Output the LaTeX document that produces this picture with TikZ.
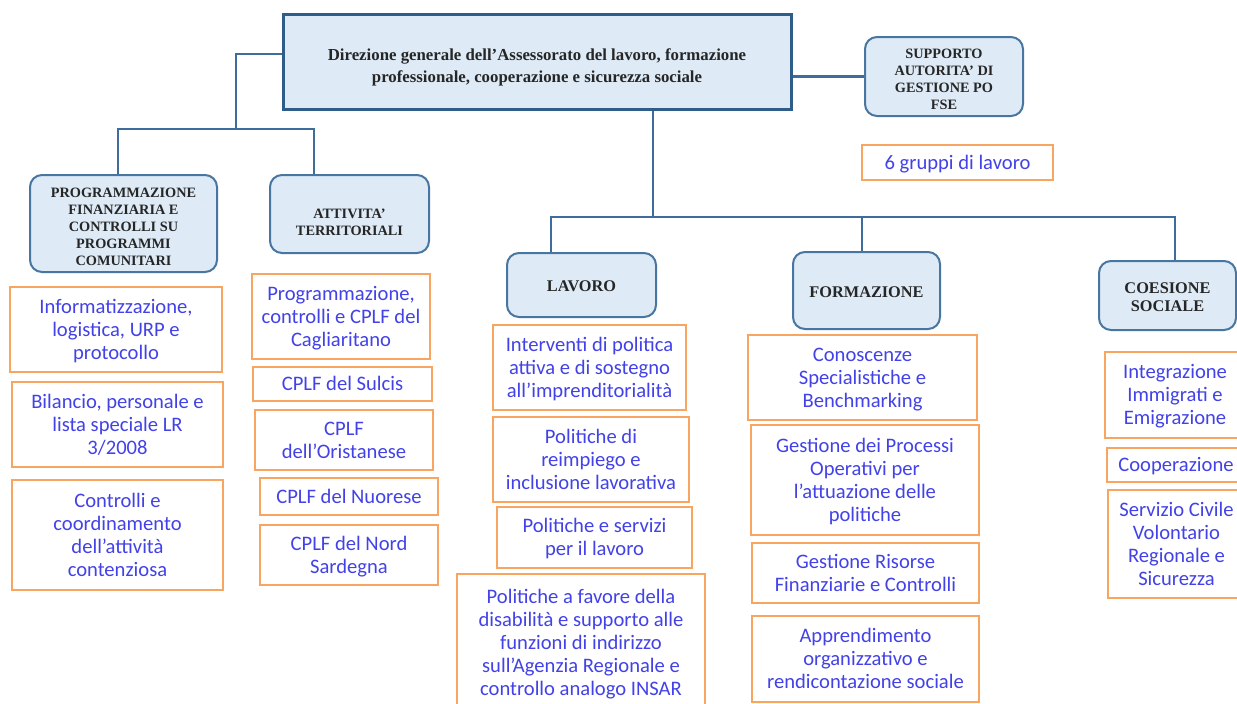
\documentclass[tikz,border=0pt]{standalone}
\usepackage{fontspec}
\setmainfont{Liberation Serif}
\newfontfamily\carl{Carlito}
\definecolor{boxfill}{RGB}{222,235,247}
\definecolor{headline}{RGB}{72,118,160}
\definecolor{mainline}{RGB}{47,93,138}
\definecolor{connc}{RGB}{62,108,155}
\definecolor{orangeline}{RGB}{248,165,98}
\definecolor{bluetext}{RGB}{66,66,232}
\definecolor{headtext}{RGB}{38,38,38}
% struts: first-line height, last-line depth
\newcommand\OB[1]{\rule{0pt}{19pt}#1\rule[-6pt]{0pt}{6pt}}
\newcommand\HS[3]{\rule{0pt}{#1pt}#3\rule[-#2pt]{0pt}{#2pt}}
\tikzset{
  head/.style={draw=headline, fill=boxfill, line width=2pt, rounded corners=12pt,
    align=center, text=headtext, inner sep=2pt,
    font=\bfseries\fontsize{14.3}{17}\selectfont},
  headbig/.style={head, font=\bfseries\fontsize{16.3}{18.5}\selectfont},
  mainbox/.style={draw=mainline, fill=boxfill, line width=3pt, align=center,
    text=headtext, inner sep=2pt, font=\bfseries\fontsize{16.8}{22}\selectfont},
  obox/.style={draw=orangeline, fill=white, line width=1.8pt, align=center,
    text=bluetext, inner sep=2pt, font=\carl\fontsize{20.6}{23}\selectfont},
  conn/.style={draw=connc, line width=2.5pt}
}
\begin{document}
\begin{tikzpicture}[x=1pt,y=-1pt]
\clip (0,0) rectangle (1237,704);
\fill[white] (0,0) rectangle (1237,704);

% top
\node[mainbox, minimum width=508, minimum height=95] (main) at (537,61.5)
  {\HS{24}{5}{Direzione generale dell'Assessorato del lavoro, formazione\\professionale, cooperazione e sicurezza sociale}};
\node[head, minimum width=158, minimum height=79] (supp) at (944,76.5)
  {\HS{19}{4}{SUPPORTO\\AUTORITA' DI\\GESTIONE PO\\FSE}};
\node[obox, minimum width=191, minimum height=35] (grp) at (957.5,162.5) {\OB{6 gruppi di lavoro}};

% headings
\node[head, minimum width=187, minimum height=97] (prog) at (123.5,223.5)
  {\HS{19}{4}{PROGRAMMAZIONE\\FINANZIARIA E\\CONTROLLI SU\\PROGRAMMI\\COMUNITARI}};
\node[head, minimum width=159, minimum height=78] (att) at (349.5,214)
  {\HS{30}{4}{ATTIVITA'\\TERRITORIALI}};
\node[headbig, minimum width=149, minimum height=64] (lav) at (581.5,285) {\HS{16}{4}{LAVORO}};
\node[headbig, minimum width=147, minimum height=77] (form) at (866.5,290.5) {\HS{18}{4}{FORMAZIONE}};
\node[headbig, minimum width=137, minimum height=69] (coes) at (1167.5,295.5) {\HS{18}{4}{COESIONE\\SOCIALE}};

% column 1
\node[obox, minimum width=212, minimum height=85] (c1a) at (116,329.5)
  {\OB{Informatizzazione,\\logistica, URP e\\protocollo}};
\node[obox, minimum width=211, minimum height=85] (c1b) at (117.5,424.5)
  {\OB{Bilancio, personale e\\lista speciale LR\\3/2008}};
\node[obox, minimum width=211, minimum height=110] (c1c) at (117.5,535)
  {\OB{Controlli e\\coordinamento\\dell’attività\\contenziosa}};

% column 2
\node[obox, minimum width=178, minimum height=85] (c2a) at (341,316.5)
  {\OB{Programmazione,\\controlli e CPLF del\\Cagliaritano}};
\node[obox, minimum width=179, minimum height=34] (c2b) at (342.5,384) {\OB{CPLF del Sulcis}};
\node[obox, minimum width=178, minimum height=60] (c2c) at (344,440) {\OB{CPLF\\dell’Oristanese}};
\node[obox, minimum width=178, minimum height=37] (c2d) at (349,496.5) {\OB{CPLF del Nuorese}};
\node[obox, minimum width=178, minimum height=60] (c2e) at (349,555) {\OB{CPLF del Nord\\Sardegna}};

% column 3
\node[obox, minimum width=193, minimum height=85] (c3a) at (589.5,367.5)
  {\OB{Interventi di politica\\attiva e di sostegno\\all’imprenditorialità}};
\node[obox, minimum width=196, minimum height=85] (c3b) at (591,459.5)
  {\OB{Politiche di\\reimpiego e\\inclusione lavorativa}};
\node[obox, minimum width=195, minimum height=61] (c3c) at (594.5,537.5)
  {\OB{Politiche e servizi\\per il lavoro}};
\node[obox, minimum width=248, minimum height=138] (c3d) at (581,643)
  {\OB{Politiche a favore della\\disabilità e supporto alle\\funzioni di indirizzo\\sull’Agenzia Regionale e\\controllo analogo INSAR}};

% column 4
\node[obox, minimum width=229, minimum height=85] (c4a) at (862.5,377.5)
  {\OB{Conoscenze\\Specialistiche e\\Benchmarking}};
\node[obox, minimum width=228, minimum height=110] (c4b) at (865,480)
  {\OB{Gestione dei Processi\\Operativi per\\l’attuazione delle\\politiche}};
\node[obox, minimum width=227, minimum height=60] (c4c) at (865.5,573)
  {\OB{Gestione Risorse\\Finanziarie e Controlli}};
\node[obox, minimum width=227, minimum height=86] (c4d) at (865.5,659)
  {\OB{Apprendimento\\organizzativo e\\rendicontazione sociale}};

% column 5
\node[obox, minimum width=140, minimum height=86] (c5a) at (1175,395)
  {\OB{Integrazione\\Immigrati e\\Emigrazione}};
\node[obox, minimum width=138, minimum height=34] (c5b) at (1176,465) {\OB{Cooperazione}};
\node[obox, minimum width=137, minimum height=108] (c5c) at (1176.5,544)
  {\OB{Servizio Civile\\Volontario\\Regionale e\\Sicurezza}};

% connectors
\coordinate (jL) at (236,129);
\coordinate (jC) at (653,217);
\draw[conn] ([yshift=7.5pt]main.west) -| (jL);
\draw[conn] (jL) -| ([xshift=-5.5pt]prog.north);
\draw[conn] (jL) -| ([xshift=-35.5pt]att.north);
\draw[conn] ([xshift=116pt]main.south) -- (jC);
\draw[conn] (jC) -| ([xshift=-30.5pt]lav.north);
\draw[conn] (jC) -| ([xshift=-4.5pt]form.north);
\draw[conn] (jC) -| ([xshift=7.5pt]coes.north);
\draw[conn] (main.east |- supp.west) -- (supp.west);
\end{tikzpicture}
\end{document}
